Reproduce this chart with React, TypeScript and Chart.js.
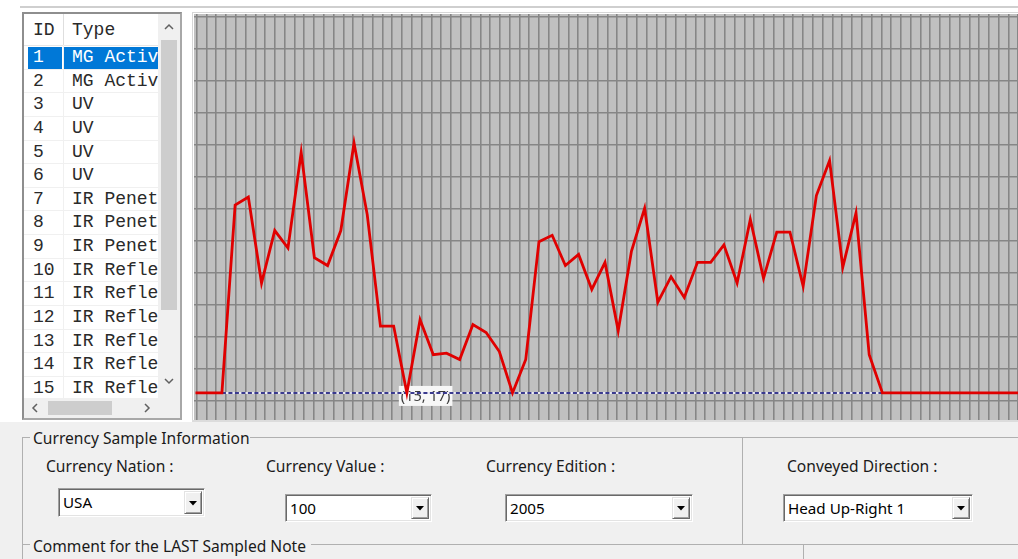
import React, { useEffect, useRef } from "react";
import { Chart, registerables } from "chart.js";
Chart.register(...registerables);

// ---- data ----
const sampleValues = [
  17, 17, 17, 135, 140, 86, 119, 108, 168, 102, 97, 119, 174, 129, 59, 59,
  17, 63, 41, 42, 38, 60, 55, 43, 17, 38, 112, 116, 97, 104, 82, 99, 56, 106,
  133, 74, 90, 77, 99, 99, 110, 86, 126, 89, 118, 118, 84, 141, 163, 96, 130,
  41, 17, 17, 17, 17, 17, 17, 17, 17, 17, 17, 17, 17,
];
const thresholdValue = 17;
const thresholdStart = 2;
const thresholdEnd = 52;
const markIndex = 16;
const markLabel = "(15, 17)";

const listIds = [1, 2, 3, 4, 5, 6, 7, 8, 9, 10, 11, 12, 13, 14, 15];
const listTypes = [
  "MG Active", "MG Active", "UV", "UV", "UV", "UV",
  "IR Penetration", "IR Penetration", "IR Penetration",
  "IR Reflection", "IR Reflection", "IR Reflection", "IR Reflection",
  "IR Reflection", "IR Reflection",
];

const nationLabel = "Currency Nation :";
const valueLabel = "Currency Value :";
const editionLabel = "Currency Edition :";
const directionLabel = "Conveyed Direction :";
const nationValue = "USA";
const currencyValue = "100";
const editionValue = "2005";
const directionValue = "Head Up-Right 1";

const UI_FONT = "'Noto Sans', 'Open Sans', sans-serif";
const UI_SIZE = 15.6;

const markPlugin = {
  id: "markLabel",
  beforeDatasetsDraw(chart: any) {
    const px = chart.scales.x.getPixelForValue(markIndex);
    const py = chart.scales.y.getPixelForValue(sampleValues[markIndex]);
    const ctx = chart.ctx;
    ctx.save();
    ctx.font = `14.5px ${UI_FONT}`;
    const w = ctx.measureText(markLabel).width + 4;
    ctx.fillStyle = "#f7f7f7";
    ctx.fillRect(px - 8, py - 7, w, 20);
    ctx.fillStyle = "#3a3a3a";
    ctx.textBaseline = "middle";
    ctx.fillText(markLabel, px - 6, py + 4);
    ctx.restore();
  },
};

function ChartPanel() {
  const ref = useRef<HTMLCanvasElement | null>(null);
  useEffect(() => {
    if (!ref.current) return;
    const xStep = 13.21;
    const xMin = -1.5 / xStep;
    const colStep = 9.78;
    const gxMin = -2.7 / colStep;
    const rowStep = 32.07;
    const gyMin = -2.3 / rowStep;
    const W = 840;
    const H = 406;
    const thresholdData = sampleValues.map((_, i) => ({
      x: i,
      y: i >= thresholdStart && i <= thresholdEnd ? thresholdValue : null,
    }));
    const chart = new Chart(ref.current, {
      type: "line",
      data: {
        datasets: [
          {
            data: sampleValues.map((v, i) => ({ x: i, y: v })),
            borderColor: "#e00000",
            borderWidth: 2.8,
            pointRadius: 0,
            tension: 0,
            xAxisID: "x",
            yAxisID: "y",
          },
          {
            data: thresholdData,
            borderColor: "#3a3a8e",
            borderWidth: 2,
            borderDash: [4, 2.5],
            pointRadius: 0,
            spanGaps: false,
            xAxisID: "x",
            yAxisID: "y",
          },
          {
            data: thresholdData,
            borderColor: "#ececf6",
            borderWidth: 2,
            pointRadius: 0,
            spanGaps: false,
            xAxisID: "x",
            yAxisID: "y",
          },
        ],
      },
      options: {
        animation: false,
        responsive: false,
        maintainAspectRatio: false,
        events: [],
        layout: { padding: 0 },
        plugins: { legend: { display: false }, tooltip: { enabled: false } },
        scales: {
          x: { type: "linear", display: false, min: xMin, max: xMin + W / xStep },
          y: { type: "linear", display: false, min: 0, max: 255 },
          gx: {
            type: "linear",
            position: "bottom",
            min: gxMin,
            max: gxMin + W / colStep,
            afterBuildTicks: (axis: any) => {
              axis.ticks = Array.from({ length: 87 }, (_, i) => ({ value: i }));
            },
            grid: { color: "#868686", lineWidth: 1.6, drawTicks: false },
            border: { display: false },
            ticks: { display: false },
          },
          gy: {
            type: "linear",
            position: "left",
            reverse: true,
            min: gyMin,
            max: gyMin + H / rowStep,
            afterBuildTicks: (axis: any) => {
              axis.ticks = Array.from({ length: 13 }, (_, i) => ({ value: i }));
            },
            grid: { color: "#868686", lineWidth: 1.6, drawTicks: false },
            border: { display: false },
            ticks: { display: false },
          },
        },
      },
      plugins: [
        {
          id: "bg",
          beforeDraw(c: any) {
            const { ctx } = c;
            ctx.save();
            ctx.fillStyle = "#c0c0c0";
            ctx.fillRect(0, 0, c.width, c.height);
            ctx.restore();
          },
        },
        markPlugin,
      ],
    });
    return () => chart.destroy();
  }, []);
  return (
    <div style={{ position: "absolute", left: 194, top: 14, width: 840, height: 406 }}>
      <canvas ref={ref} width={840} height={406} style={{ width: 840, height: 406, display: "block" }} />
    </div>
  );
}

function Chevron({ dir, cx, cy }: { dir: "up" | "down" | "left" | "right"; cx: number; cy: number }) {
  const pts: Record<string, string> = {
    up: "1,6 5,2 9,6",
    down: "1,2 5,6 9,2",
    left: "6,1 2,5 6,9",
    right: "2,1 6,5 2,9",
  };
  const w = dir === "up" || dir === "down" ? 10 : 8;
  const h = dir === "up" || dir === "down" ? 8 : 10;
  return (
    <svg width={w} height={h} style={{ position: "absolute", left: cx - w / 2, top: cy - h / 2 }}>
      <polyline points={pts[dir]} fill="none" stroke="#606060" strokeWidth={1.5} />
    </svg>
  );
}

function ListBox() {
  const rowH = 23.64;
  const mono = "'Liberation Mono', 'Courier New', monospace";
  return (
    <div
      style={{
        position: "absolute",
        left: 22,
        top: 12,
        width: 160,
        height: 408,
        boxSizing: "border-box",
        borderTop: "2px solid #8e8e8e",
        borderLeft: "2px solid #8e8e8e",
        borderRight: "2px solid #a8a8a8",
        borderBottom: "2px solid #a8a8a8",
        background: "#fff",
        overflow: "hidden",
      }}
    >
      <div style={{ position: "absolute", left: 0, top: 0, width: 156, height: 404, fontFamily: mono, fontSize: 18, color: "#2a2a2a" }}>
        <div style={{ position: "absolute", left: 0, top: 0, width: 134, height: 31, borderBottom: "1px solid #e6e6e6" }} />
        <div style={{ position: "absolute", left: 39, top: 0, width: 1, height: 31, background: "#dedede" }} />
        <div style={{ position: "absolute", left: 9, top: 4, lineHeight: "24px" }}>ID</div>
        <div style={{ position: "absolute", left: 48, top: 4, lineHeight: "24px" }}>Type</div>
        {listIds.map((id, i) => {
          const top = 32 + i * rowH;
          const sel = i === 0;
          return (
            <React.Fragment key={id}>
              {sel && (
                <>
                  <div style={{ position: "absolute", left: 4, top: top + 0.5, width: 34, height: rowH - 1.5, background: "#0078d7" }} />
                  <div style={{ position: "absolute", left: 40, top: top + 0.5, width: 94, height: rowH - 1.5, background: "#0078d7" }} />
                </>
              )}
              <div style={{ position: "absolute", left: 0, top: top + rowH - 1, width: 134, height: 1, background: "#f0f0f0" }} />
              <div
                style={{
                  position: "absolute",
                  left: 9,
                  top,
                  height: rowH,
                  lineHeight: `${rowH}px`,
                  color: sel ? "#fff" : "#2a2a2a",
                  whiteSpace: "nowrap",
                }}
              >
                {id}
              </div>
              <div
                style={{
                  position: "absolute",
                  left: 48,
                  top,
                  width: 86,
                  height: rowH,
                  lineHeight: `${rowH}px`,
                  color: sel ? "#fff" : "#2a2a2a",
                  whiteSpace: "nowrap",
                  overflow: "hidden",
                }}
              >
                {listTypes[i]}
              </div>
            </React.Fragment>
          );
        })}
        <div style={{ position: "absolute", left: 39, top: 31, width: 1, height: 373, background: "#f0f0f0" }} />
        <div style={{ position: "absolute", left: 134, top: 0, width: 22, height: 384, background: "#f0f0f0" }}>
          <Chevron dir="up" cx={11} cy={13} />
          <div style={{ position: "absolute", left: 3, top: 26, width: 16, height: 270, background: "#cdcdcd" }} />
          <Chevron dir="down" cx={11} cy={367} />
        </div>
        <div style={{ position: "absolute", left: 0, top: 384, width: 134, height: 20, background: "#f0f0f0" }}>
          <Chevron dir="left" cx={11} cy={10} />
          <div style={{ position: "absolute", left: 24, top: 3, width: 64, height: 14, background: "#cdcdcd" }} />
          <Chevron dir="right" cx={123} cy={10} />
        </div>
        <div style={{ position: "absolute", left: 134, top: 384, width: 22, height: 20, background: "#f0f0f0" }} />
      </div>
    </div>
  );
}

function Combo({ left, top, width, height, text }: { left: number; top: number; width: number; height: number; text: string }) {
  return (
    <div
      style={{
        position: "absolute",
        left,
        top,
        width,
        height,
        boxSizing: "border-box",
        background: "#fff",
        borderTop: "1px solid #a0a0a0",
        borderLeft: "1px solid #a0a0a0",
        borderRight: "1px solid #ffffff",
        borderBottom: "1px solid #ffffff",
        boxShadow: "inset 1px 1px 0 #696969, inset -1px -1px 0 #e3e3e3",
      }}
    >
      <div
        style={{
          position: "absolute",
          left: 4,
          top: 0,
          height: height - 2,
          lineHeight: `${height - 2}px`,
          fontFamily: UI_FONT,
          fontSize: UI_SIZE - 0.4,
          color: "#000",
          whiteSpace: "nowrap",
        }}
      >
        {text}
      </div>
      <div
        style={{
          position: "absolute",
          right: 2,
          top: 2,
          width: 18,
          height: height - 6,
          boxSizing: "border-box",
          background: "#f0f0f0",
          borderTop: "1px solid #e3e3e3",
          borderLeft: "1px solid #e3e3e3",
          borderRight: "1px solid #696969",
          borderBottom: "1px solid #696969",
          boxShadow: "inset 1px 1px 0 #ffffff, inset -1px -1px 0 #a0a0a0",
        }}
      >
        <svg width={8} height={5} style={{ position: "absolute", left: 4, top: (height - 8) / 2 - 2 }}>
          <polygon points="0,0 8,0 4,4.5" fill="#000" />
        </svg>
      </div>
    </div>
  );
}

function Label({ left, cy, text }: { left: number; cy: number; text: string }) {
  return (
    <div
      style={{
        position: "absolute",
        left,
        top: cy - 10,
        lineHeight: "20px",
        fontFamily: UI_FONT,
        fontSize: UI_SIZE,
        color: "#1a1a1a",
        whiteSpace: "nowrap",
      }}
    >
      {text}
    </div>
  );
}

function Line({ x, y, w, h }: { x: number; y: number; w: number; h: number }) {
  return <div style={{ position: "absolute", left: x, top: y, width: w, height: h, background: "#b0b0b0" }} />;
}

export default function App() {
  return (
    <div
      style={{
        position: "fixed",
        left: 0,
        top: 0,
        width: 1018,
        height: 559,
        overflow: "hidden",
        background: "#f0f0f0",
      }}
    >
      <div style={{ position: "absolute", left: 0, top: 0, width: 1018, height: 422, background: "#fff" }} />
      <div style={{ position: "absolute", left: 20, top: 6, width: 998, height: 2, background: "#cfcfcf" }} />
      <div style={{ position: "absolute", left: 192, top: 12, width: 840, height: 410, boxSizing: "border-box", border: "1px solid #d6d6d6", background: "#fff" }} />
      <ChartPanel />
      <div style={{ position: "absolute", left: 192, top: 420, width: 830, height: 2, background: "#dcdcdc" }} />
      <ListBox />

      <Line x={22} y={437} w={8} h={1} />
      <Line x={250} y={437} w={770} h={1} />
      <Line x={22} y={437} w={1} h={122} />
      <Line x={742} y={437} w={1} h={107} />
      <Line x={22} y={544} w={8} h={1} />
      <Line x={311} y={544} w={708} h={1} />
      <Line x={803} y={544} w={1} h={15} />

      <Label left={33} cy={438} text="Currency Sample Information" />
      <Label left={46} cy={466} text={nationLabel} />
      <Label left={266} cy={466} text={valueLabel} />
      <Label left={486} cy={466} text={editionLabel} />
      <Label left={787} cy={466} text={directionLabel} />
      <Label left={33} cy={546} text="Comment for the LAST Sampled Note" />

      <Combo left={58} top={488} width={147} height={29} text={nationValue} />
      <Combo left={285} top={494} width={147} height={28} text={currencyValue} />
      <Combo left={505} top={494} width={188} height={28} text={editionValue} />
      <Combo left={783} top={494} width={190} height={28} text={directionValue} />
    </div>
  );
}
